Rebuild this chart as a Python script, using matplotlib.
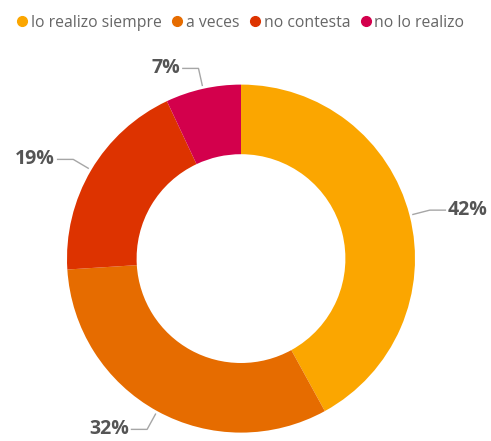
import numpy as np
import matplotlib
matplotlib.use('Agg')
import matplotlib.pyplot as plt
from matplotlib.lines import Line2D

plt.rcParams['font.family'] = ['Open Sans', 'DejaVu Sans']

# data
categories = ['lo realizo siempre', 'a veces', 'no contesta', 'no lo realizo']
shares = [42, 32, 19, 7]
colors = ['#FBA600', '#E66C00', '#DD3300', '#D3004C']

fig = plt.figure(figsize=(4.91, 4.41), dpi=100)
ax = fig.add_axes([0, 0, 1, 1])

wedges, _ = ax.pie(shares, colors=colors, startangle=90, counterclock=False,
                   radius=1.0, wedgeprops=dict(width=0.4, edgecolor='none'))

# leader lines and percentage labels
total = float(sum(shares))
for w, v in zip(wedges, shares):
    mid = np.deg2rad((w.theta1 + w.theta2) / 2.0)
    x0, y0 = 1.02 * np.cos(mid), 1.02 * np.sin(mid)
    x1, y1 = 1.12 * np.cos(mid), 1.12 * np.sin(mid)
    side = 1 if x0 >= 0 else -1
    x2 = x1 + side * 0.09
    ax.plot([x0, x1, x2], [y0, y1, y1], color='#A6A6A6', lw=1.0, clip_on=False)
    ax.text(x2 + side * 0.015, y1, f'{v / total * 100:.0f}%',
            ha='left' if side > 0 else 'right', va='center',
            fontsize=14, fontweight='bold', color='#555555')

# 174px per unit, centre at (241, 258.6) px from top-left
cx, cy, r = 241, 258.6, 174
ax.set_xlim(-cx / r, (491 - cx) / r)
ax.set_ylim(-(441 - cy) / r, cy / r)
ax.set_aspect('auto')
ax.axis('off')

handles = [Line2D([], [], marker='o', linestyle='none', markersize=7,
                  markerfacecolor=c, markeredgecolor=c) for c in colors]
fig.legend(handles, categories, loc='upper left', bbox_to_anchor=(0.008, 0.988),
           ncol=4, frameon=False, fontsize=11.3, labelcolor='#666666',
           handletextpad=0.0, columnspacing=0.45, handlelength=1.1,
           borderaxespad=0.2)

fig.savefig('out.png', dpi=100)
